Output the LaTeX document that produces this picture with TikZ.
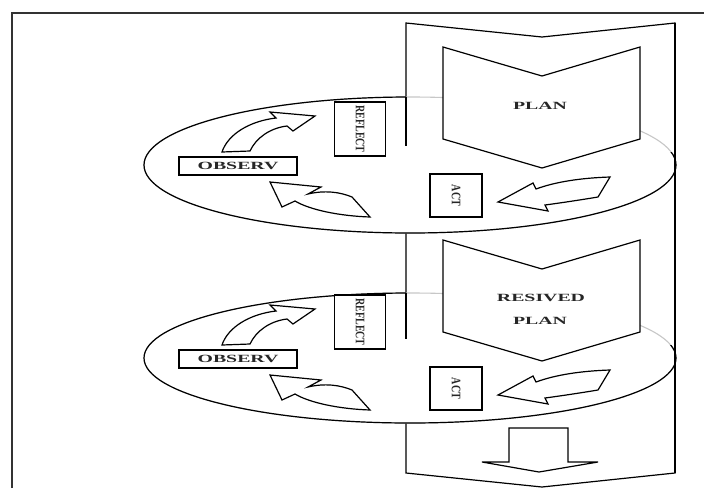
\documentclass[tikz,border=0pt]{standalone}
\usepackage{fontspec}
\setmainfont{Liberation Serif}
\usetikzlibrary{calc}

\tikzset{
  edge/.style={line width=1.2pt, line join=miter, draw=black},
  faint/.style={line width=1.1pt, draw=black!22},
  blockarrow/.style={edge, fill=white},
  labelbox/.style={draw=black, line width=1.1pt, fill=white, inner sep=0pt},
  widetext/.style={font=\fontsize{11}{13}\selectfont\bfseries, text=black!85, inner sep=0pt},
  tallbox/.style={labelbox, rotate=-90, font=\fontsize{10}{12}\selectfont\bfseries, text=black!85},
}
% horizontal labels are set wide, vertical ones slightly thickened
\newcommand\wide[1]{\scalebox{1.8}[1]{#1}}
\newcommand\thick[1]{\scalebox{1}[1.3]{#1}}

% one Plan-Act-Observe-Reflect ring; #1 vertical offset, #2 ring half-height, #3 name suffix
\newcommand\drawcycle[3]{%
\begin{scope}[shift={(0,#1)}]
  % the ring
  \fill[white] (410,165) ellipse (266 and #2);
  \draw[faint] (410,165) ellipse (266 and #2);
  \begin{scope}
    \clip (0,0) -- (406,0) -- (406,152) -- (704,152) -- (704,260) -- (0,260) -- cycle;
    \draw[edge] (410,165) ellipse (266 and #2);
  \end{scope}
  % left edge of the main arrow passing in front of the ring
  \draw[edge] (406,{165-#2}) -- (406,146);
  % plan chevron
  \draw[edge, fill=white] (443,47) -- (542,76) -- (640,47) -- (640,139) -- (542,168) -- (443,139) -- cycle;
  % observe -> reflect
  \draw[blockarrow] (222,152) .. controls (228,134) and (250,121) .. (276,118)
     -- (270,112) -- (315,116) -- (293,131) -- (287,126)
     .. controls (270,128) and (256,138) .. (250,151) -- cycle;
  % act -> observe
  \draw[blockarrow] (270,182) -- (321,187) -- (308,194)
     .. controls (325,190) and (340,192) .. (352,197) -- (370,217)
     .. controls (340,216) and (310,210) .. (295,201) -- (282,207) -- cycle;
  % plan -> act
  \draw[blockarrow] (498,202) -- (533,183) -- (536,189)
     .. controls (555,182) and (580,178) .. (610,177) -- (598,197)
     .. controls (580,200) and (560,203) .. (545,205) -- (548,211) -- cycle;
  % stage boxes
  \node[labelbox, widetext, minimum width=118pt, minimum height=18pt] (observ#3) at (238,166) {\wide{OBSERV}};
  \node[tallbox, minimum width=54pt, minimum height=51pt] (reflect#3) at (360,129) {\thick{REFLECT}};
  \node[tallbox, minimum width=43pt, minimum height=52pt] (act#3) at (456,195.5) {\thick{ACT}};
\end{scope}}

\begin{document}
\begin{tikzpicture}[x=1pt, y=-1pt]
  \useasboundingbox (0,0) rectangle (704,488);
  \fill[white] (0,0) rectangle (704,488);

  % page frame
  \draw[line width=1.1pt, black!80] (12,488) -- (12,13) -- (704,13);

  % main downward arrow
  \draw[edge] (406,23) -- (542,37) -- (675,23) -- (675,473) -- (542,487) -- (406,473) -- cycle;

  \drawcycle{0}{68}{a}
  \drawcycle{193}{65}{b}

  % right edge of the main arrow in front of both rings
  \draw[edge] (675,23) -- (675,473);

  % chevron labels
  \node[widetext] (plan) at (540,105.5) {\wide{PLAN}};
  \node[widetext] (revised) at (541,297.5) {\wide{RESIVED}};
  \node[widetext] (revplan) at (540,321) {\wide{PLAN}};

  % small outgoing arrow
  \draw[edge] (509,428) -- (568,428) -- (568,462) -- (598,462) -- (539,472)
     -- (482,462) -- (509,462) -- cycle;
\end{tikzpicture}
\end{document}
